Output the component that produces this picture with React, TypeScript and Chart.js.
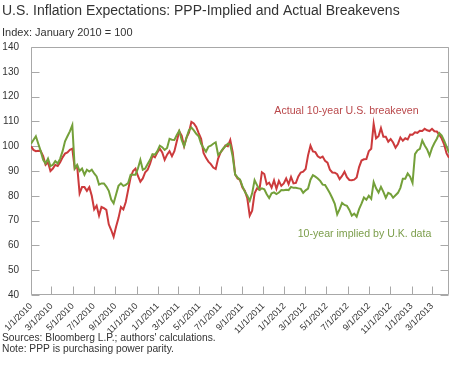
import React, { useEffect, useRef } from 'react';
import { Chart, registerables } from 'chart.js';

Chart.register(...registerables);

// ---- Text ----
const TITLE = 'U.S. Inflation Expectations: PPP-Implied and Actual Breakevens';
const SUBTITLE = 'Index: January 2010 = 100';
const SOURCE = "Sources: Bloomberg L.P.; authors' calculations.";
const NOTE = 'Note: PPP is purchasing power parity.';
const ACTUAL_NAME = 'Actual 10-year U.S. breakeven';
const UK_NAME = '10-year implied by U.K. data';

// ---- Axes ----
const START_DATE = '1/1/2010';
const STEP_DAYS = 7; // weekly observations
const X_MAX_DAYS = 1204;
const TICK_LABELS = [
  '1/1/2010', '3/1/2010', '5/1/2010', '7/1/2010', '9/1/2010', '11/1/2010',
  '1/1/2011', '3/1/2011', '5/1/2011', '7/1/2011', '9/1/2011', '11/1/2011',
  '1/1/2012', '3/1/2012', '5/1/2012', '7/1/2012', '9/1/2012', '11/1/2012',
  '1/1/2013', '3/1/2013',
];
const Y_MIN = 40;
const Y_MAX = 140;
const Y_STEP = 10;

// ---- Series (weekly, index Jan 2010 = 100) ----
const ACTUAL = [
  100, 98.5, 98, 98.2, 98, 96, 92.5, 93.5, 90, 91,
  92.5, 92, 93.5, 95.5, 97, 97.5, 98.5, 99, 91, 92,
  81, 83.5, 83.5, 82, 83.5, 80, 74.5, 76, 72, 75.5,
  75, 74.3, 68.5, 66.2, 63.5, 67.5, 71, 75.5, 74.5, 77.5,
  82.5, 87.5, 90, 91, 88, 85.7, 87, 89.5, 90.5, 93,
  96.2, 95.5, 97.5, 99, 97.5, 94.5, 96.6, 98, 96, 98,
  102, 106, 104.3, 100, 103.5, 105.5, 109.8, 109.2, 107.8, 105.3,
  103, 97.3, 95.3, 93.8, 92.8, 91.4, 90.8, 95, 97.5, 98.8,
  100.3, 100, 102.5, 97.6, 88.6, 87, 86.4, 83.3, 82, 79,
  72, 74, 81, 83, 82.5, 89.5, 88.8, 84.6, 85.3, 83.3,
  86.2, 82.8, 86, 84, 85, 87, 84.7, 87.6, 85, 85.2,
  87.8, 89.4, 89.7, 90.8, 96.3, 100.2, 97.9, 97.6, 95.9, 95.3,
  95.8, 94.1, 93.4, 90.5, 89.4, 89.3, 88.7, 86.7, 88, 89.7,
  87.5, 86.4, 86.3, 86.5, 87.4, 91.6, 94.2, 94.7, 94.8, 98,
  99, 109, 103.2, 104, 107.3, 103.8, 103.8, 101.8, 102.9, 101.5,
  99.4, 100.9, 103.5, 102.2, 103.2, 102.7, 104.7, 104.6, 105.6, 105.4,
  106.2, 106.1, 107, 106.4, 106.1, 107, 106, 105.9, 104.6, 103.1,
  100.7, 97.1, 95.3,
];
const UK_IMPLIED = [
  101, 102.5, 104, 101, 98, 94.5, 93, 95, 92, 92.5,
  94, 93, 95, 98, 102, 104, 106, 108.5, 91, 92.5,
  90, 91, 88.5, 90.5, 89.8, 90.5, 89, 87.8, 84.5, 85,
  85, 83.7, 82, 78.5, 77, 80.5, 84, 85, 84, 84.4,
  85.2, 88.5, 88.5, 88.5, 91, 94.5, 90.5, 91, 92.8, 94.5,
  96.8, 96.6, 98, 100.2, 99.6, 98.5, 99.3, 103, 102.6, 102.5,
  104.5, 106.2, 102.5, 100, 103.5, 106.4, 107.5, 106.4, 105, 104,
  101, 99.3, 97.8, 99.8, 100.2, 101, 101.6, 96.5, 97.5, 99,
  100, 101, 100.6, 95.8, 88.6, 87.4, 86.5, 83.9, 81.6, 80,
  78, 81, 86.3, 84.3, 82.4, 83, 82.6, 80.6, 79.1, 81,
  81.4, 80.7, 81.3, 82.3, 82.2, 82.4, 82.3, 83.6, 83.2, 83.2,
  83, 82.8, 81.2, 82.2, 82.9, 86.5, 88.3, 87.7, 87, 86,
  84.5, 84.4, 82.7, 81, 79, 76.8, 72.5, 74.6, 77.1, 76.3,
  76, 74.3, 72, 72.8, 71.6, 74.6, 76.8, 79.3, 78.4, 80,
  78.8, 85.5, 83, 81.3, 83.6, 81.6, 79.2, 81.2, 80.7, 79.2,
  80.2, 81.2, 83.2, 86.9, 86.9, 89, 87.7, 85.2, 96.8, 98.3,
  98.9, 102.3, 100.3, 98.7, 96.2, 99.2, 101.3, 103, 105.3, 104.3,
  102.2, 99.8, 97.4,
];

// ---- Annotation anchors (day offset, index value) ----
const ACTUAL_NAME_AT = { day: 701, value: 114 };
const UK_NAME_AT = { day: 768, value: 64.6 };

// ---- Styles ----
const RED = '#cc3a3c';
const GREEN = '#74a03a';
const RED_TEXT = '#b9474a';
const GREEN_TEXT = '#7c9e4c';
const FRAME = '#a8a8a8';
const TEXT = '#333333';
const FONT = '"Liberation Sans", Arial, sans-serif';
const TICK_LEN = 8;

const parseDay = (s: string) => {
  const [m, d, y] = s.split('/').map(Number);
  const [m0, d0, y0] = START_DATE.split('/').map(Number);
  return Math.round((Date.UTC(y, m - 1, d) - Date.UTC(y0, m0 - 1, d0)) / 86400000);
};
const TICK_DAYS = TICK_LABELS.map(parseDay);

const framePlugin = {
  id: 'frameTicks',
  beforeDatasetsDraw(chart: any) {
    const { ctx, chartArea: a, scales } = chart;
    const xs = scales.x;
    const ys = scales.y;
    const L = Math.round(a.left) + 0.5;
    const R = Math.round(a.right) - 0.5;
    const T = Math.round(a.top) + 0.5;
    const B = Math.round(a.bottom) - 0.5;
    ctx.save();
    ctx.strokeStyle = FRAME;
    ctx.lineWidth = 1;
    ctx.beginPath();
    ctx.rect(L, T, R - L, B - T);
    ys.ticks.forEach((t: any) => {
      const py = Math.round(ys.getPixelForValue(t.value)) + 0.5;
      ctx.moveTo(L, py);
      ctx.lineTo(L + TICK_LEN, py);
      ctx.moveTo(R - TICK_LEN, py);
      ctx.lineTo(R, py);
    });
    xs.ticks.forEach((t: any) => {
      const px = Math.round(xs.getPixelForValue(t.value)) + 0.5;
      ctx.moveTo(px, B);
      ctx.lineTo(px, B - TICK_LEN);
    });
    ctx.stroke();
    ctx.restore();
  },
};

const textPlugin = {
  id: 'texts',
  afterDraw(chart: any) {
    const { ctx, scales } = chart;
    ctx.save();
    ctx.textAlign = 'left';
    ctx.textBaseline = 'alphabetic';
    ctx.fillStyle = TEXT;
    ctx.font = `14px ${FONT}`;
    ctx.fillText(TITLE, 2, 15);
    ctx.font = `11px ${FONT}`;
    ctx.fillText(SUBTITLE, 2, 36);
    ctx.font = `10.25px ${FONT}`;
    ctx.fillText(SOURCE, 2, 341);
    ctx.fillText(NOTE, 2, 352);
    ctx.font = `10.6px ${FONT}`;
    ctx.textBaseline = 'middle';
    ctx.fillStyle = RED_TEXT;
    ctx.fillText(ACTUAL_NAME, scales.x.getPixelForValue(ACTUAL_NAME_AT.day), scales.y.getPixelForValue(ACTUAL_NAME_AT.value));
    ctx.fillStyle = GREEN_TEXT;
    ctx.fillText(UK_NAME, scales.x.getPixelForValue(UK_NAME_AT.day), scales.y.getPixelForValue(UK_NAME_AT.value));
    ctx.restore();
  },
};

export default function App() {
  const ref = useRef<HTMLCanvasElement | null>(null);

  useEffect(() => {
    if (!ref.current) return;
    const toPoints = (arr: number[]) => arr.map((v, i) => ({ x: i * STEP_DAYS, y: v }));
    const chart = new Chart(ref.current, {
      type: 'line',
      data: {
        datasets: [
          {
            label: UK_NAME,
            data: toPoints(UK_IMPLIED),
            borderColor: GREEN,
            borderWidth: 2,
            pointRadius: 0,
            tension: 0,
          },
          {
            label: ACTUAL_NAME,
            data: toPoints(ACTUAL),
            borderColor: RED,
            borderWidth: 2,
            pointRadius: 0,
            tension: 0,
          },
        ],
      },
      options: {
        animation: false,
        responsive: false,
        maintainAspectRatio: false,
        layout: { padding: { top: 47, right: 1, left: 0, bottom: 0 } },
        plugins: {
          legend: { display: false },
          title: { display: false },
          tooltip: { enabled: false },
        },
        scales: {
          x: {
            type: 'linear',
            min: 0,
            max: X_MAX_DAYS,
            grid: { display: false, drawTicks: false, tickLength: 0 },
            border: { display: false },
            afterBuildTicks: (s: any) => {
              s.ticks = TICK_DAYS.map((v) => ({ value: v }));
            },
            afterFit: (s: any) => {
              s.height = 80;
              s.paddingLeft = 0;
              s.paddingRight = 0;
            },
            ticks: {
              autoSkip: false,
              minRotation: 45,
              maxRotation: 45,
              padding: 6,
              color: TEXT,
              font: { family: FONT, size: 9 },
              callback: (_v: any, i: number) => TICK_LABELS[i],
            },
          },
          y: {
            min: Y_MIN,
            max: Y_MAX,
            grid: { display: false, drawTicks: false, tickLength: 0 },
            border: { display: false },
            afterFit: (s: any) => {
              s.width = 31;
              s.paddingTop = 0;
              s.paddingBottom = 0;
            },
            ticks: {
              stepSize: Y_STEP,
              padding: 12,
              color: TEXT,
              font: { family: FONT, size: 10 },
            },
          },
        },
      },
      plugins: [framePlugin, textPlugin],
    });
    return () => chart.destroy();
  }, []);

  return (
    <div style={{ position: 'absolute', left: 0, top: 0, width: 450, height: 375, background: '#fff' }}>
      <canvas ref={ref} width={450} height={375} style={{ display: 'block', width: 450, height: 375 }} />
    </div>
  );
}
